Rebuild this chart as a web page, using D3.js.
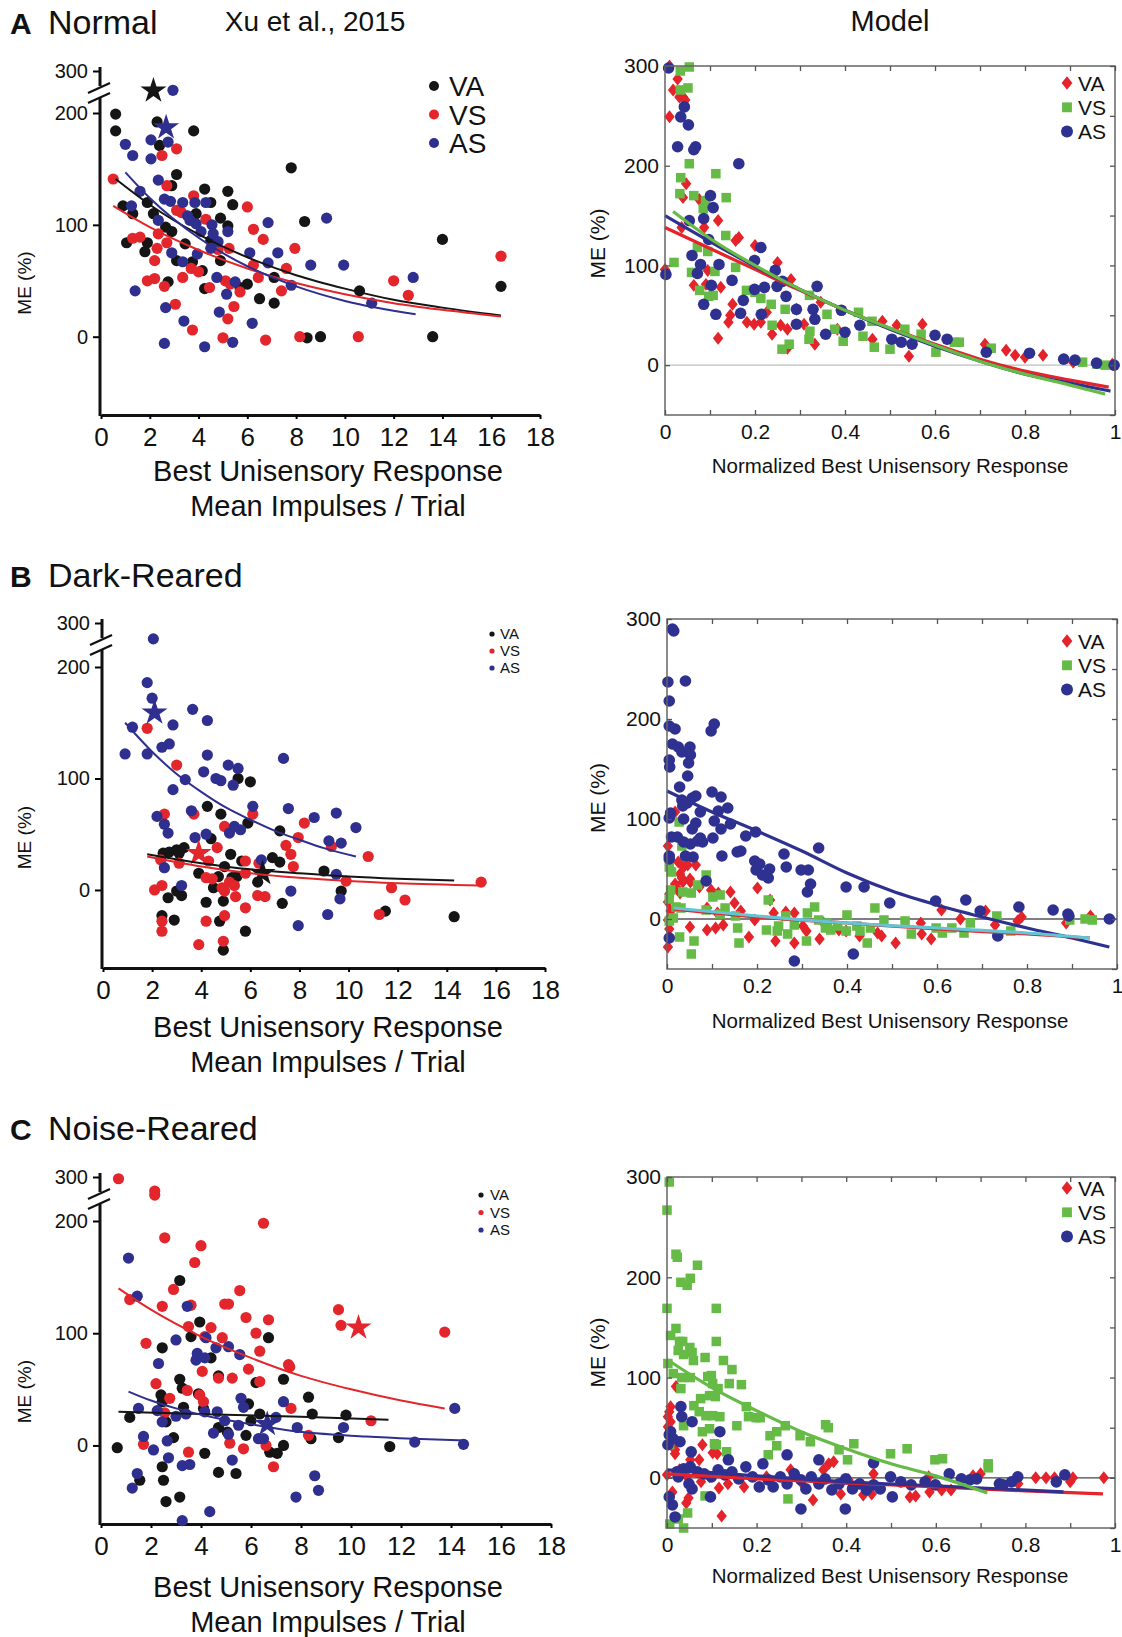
<!DOCTYPE html>
<html>
<head>
<meta charset="utf-8">
<script src="https://d3js.org/d3.v7.min.js"></script>
<style>
  body { margin: 0; background: #fff; }
  text { font-family: "Liberation Sans", Arial, sans-serif; fill: #111; }
</style>
</head>
<body>
<svg id="fig" width="1122" height="1637"></svg>
<script>
// ---- series names ----
const seriesNames = ["VA", "VS", "AS"];

// ---- A: Normal, Xu et al. 2015 (x: mean impulses/trial, y: ME %) ----
const aNormVA = [[0.6,199],[0.6,184],[2.3,192],[2.4,171],[3.1,145],[3.8,184],[4.25,132],[5.2,130],[5.4,118],[4.5,120],[3.9,110],[4.9,106],[5.2,99],[7.8,151],[8.35,103],[14.0,87],[16.4,45],[10.6,41],[9.0,0],[8.45,-1],[13.6,0],[7.1,30],[6.5,34],[6.0,47],[7.1,53],[0.9,117],[1.05,84],[1.3,110],[1.9,120],[1.9,84],[1.8,76],[2.15,110],[2.65,98],[2.9,94],[2.75,49],[3.45,83],[3.75,67],[4.15,59],[4.25,43],[4.9,68],[2.9,135],[3.1,68],[5.7,44],[4.5,86]];
const aNormVS = [[0.5,141],[2.5,162],[3.1,168],[2.7,135],[3.8,126],[3.3,111],[4.3,105],[6.0,116],[6.25,96],[6.65,87],[7.95,79],[7.6,61],[7.4,41],[12.0,50],[12.6,37],[16.4,72],[10.55,0],[8.15,0],[6.75,-3],[5.0,-1],[5.2,16],[5.45,27],[3.75,6],[3.05,29],[2.6,45],[2.2,52],[1.9,50],[2.2,68],[2.3,79],[2.35,92],[2.7,84],[1.3,88],[1.6,89],[3.35,53],[3.7,61],[4.0,58],[4.45,44],[5.1,50],[5.25,79],[5.7,40],[6.45,53],[6.25,64],[4.8,78],[5.3,47],[3.1,113]];
const aNormAS = [[2.95,254],[1.0,172],[1.3,162],[2.05,176],[2.05,159],[2.75,174],[2.35,140],[1.6,130],[1.25,117],[2.6,123],[2.85,121],[3.35,120],[3.85,120],[4.3,120],[3.55,108],[3.65,104],[3.9,101],[4.1,94],[4.55,100],[4.6,92],[4.8,85],[4.5,79],[5.2,94],[6.85,102],[9.25,106],[6.1,75],[7.25,75],[6.85,66],[8.6,64],[9.95,64],[12.8,53],[11.1,30],[7.8,46],[5.5,49],[4.75,53],[5.15,38],[4.85,22],[6.2,12],[5.4,-5],[4.25,-9],[2.6,-6],[2.65,26],[3.4,14],[1.4,41],[2.9,75],[3.35,67],[3.95,74],[2.35,104]];
const aNormStars = [[2.15,253,"VA"],[2.67,187,"AS"]];
const aFitVA = [[0.6,141],[2,118],[4,91.5],[6,71],[8,55],[10,43],[12,33],[14,26],[16.4,19]];
const aFitVS = [[0.5,117],[2,98],[4,77.5],[6,61],[8,48],[10,38],[12,30],[14,24],[16.4,18]];
const aFitAS = [[1.0,147],[2,124],[4,88.5],[6,63],[8,45],[10,32],[12.9,20]];

// ---- B: Dark-Reared ----
const bDarkVA = [[5.5,100],[6.0,97],[4.25,75],[4.8,68],[5.9,60],[4.4,46],[7.2,53],[2.45,33],[2.7,34],[3.0,36],[3.3,38],[3.1,33],[5.2,32],[5.65,26],[6.9,29],[7.2,25],[3.9,15],[4.7,12],[4.95,21],[5.45,12],[6.3,7],[4.5,2],[9.0,17],[9.7,-1],[2.65,-7],[3.2,-5],[3.0,-1],[4.2,-11],[4.9,-10],[7.3,-12],[2.4,-23],[2.9,-27],[4.75,-28],[5.8,-37],[4.9,-54],[11.5,-19],[14.3,-24],[5.25,11]];
const bDarkVS = [[1.8,145],[3.0,112],[2.5,68],[3.7,68],[6.1,68],[8.2,60],[7.95,47],[4.95,57],[4.65,38],[7.45,40],[7.65,32],[9.3,39],[10.8,30],[3.1,24],[2.35,27],[4.3,26],[5.8,26],[6.35,24],[7.75,21],[5.8,15],[4.2,11],[4.45,10],[4.85,2],[5.15,7],[5.35,4],[4.95,-1],[5.4,-6],[6.3,-5],[6.6,-6],[5.8,-16],[4.95,-23],[4.2,-28],[2.4,-28],[2.4,-37],[3.9,-49],[4.9,-46],[2.1,0],[2.4,4],[9.9,8],[11.75,2],[12.3,-9],[11.25,-22],[15.4,7]];
const bDarkAS = [[2.05,264],[1.8,186],[2.0,172],[1.2,146],[2.85,148],[0.9,122],[1.8,122],[2.4,128],[2.7,131],[3.65,162],[4.25,152],[4.25,121],[4.1,106],[3.35,99],[2.85,90],[4.6,100],[4.8,98],[5.1,112],[5.5,109],[5.3,94],[7.35,118],[6.1,75],[7.55,73],[8.6,65],[9.5,69],[10.3,56],[9.2,44],[9.7,42],[9.5,14],[9.65,-8],[9.15,-22],[7.95,-32],[7.65,-1],[6.45,27],[3.6,71],[3.75,47],[4.2,50],[5.15,51],[5.6,54],[5.35,57],[2.2,66],[2.5,59],[2.65,51],[2.5,20],[3.2,4]];
const bDarkStars = [[2.1,159,"AS"],[3.9,33,"VS"],[6.5,15,"VA"]];
const bFitVA = [[1.8,32],[4,24],[6,18.5],[8,15],[10,12],[12,10],[14.3,8.5]];
const bFitVS = [[1.8,30],[4,21],[6,15],[8,11],[10,8],[12,6],[15.4,4]];
const bFitAS = [[0.9,150],[2,124],[3,104],[4,88],[5,74],[6,63],[7,53],[8,45],[9,37.5],[10.3,30]];

// ---- C: Noise-Reared ----
const cNoiseVA = [[3.15,147],[3.95,110],[3.6,97],[2.45,87],[6.7,96],[4.4,78],[4.7,62],[3.15,59],[3.25,51],[6.2,56],[7.3,59],[8.3,43],[3.9,46],[2.4,45],[2.45,39],[4.1,33],[3.3,34],[5.9,37],[8.45,28],[9.8,27],[6.35,28],[6.0,22],[1.15,25],[2.6,21],[4.7,16],[5.05,12],[5.8,9],[2.9,7],[8.4,6],[9.5,7],[11.55,-1],[0.65,-2],[4.15,-7],[6.75,-6],[7.05,-7],[7.3,0],[2.45,-19],[4.7,-24],[5.4,-25],[2.5,-31],[1.55,-31],[3.15,-46],[2.6,-50]];
const cNoiseVS = [[0.7,296],[2.15,268],[2.15,259],[6.5,198],[2.55,185],[4.0,178],[3.75,163],[2.9,139],[5.55,138],[1.15,130],[2.45,124],[3.6,125],[4.95,126],[5.1,126],[5.8,114],[6.7,112],[9.5,121],[9.6,107],[13.75,101],[3.5,106],[4.4,105],[4.15,97],[4.85,96],[6.2,100],[6.35,84],[1.8,91],[7.5,72],[7.55,70],[5.9,68],[4.05,66],[4.7,60],[5.25,60],[6.35,57],[2.2,55],[3.45,49],[3.95,45],[4.1,39],[2.75,42],[7.6,33],[10.8,22],[2.55,29],[1.7,1],[5.15,2],[5.7,-3],[6.6,0],[3.5,-6],[6.9,-19],[8.3,9]];
const cNoiseAS = [[1.1,167],[1.45,133],[3.45,124],[3.0,94],[3.8,76],[3.85,82],[4.15,78],[4.6,87],[5.1,88],[5.55,81],[2.3,73],[4.2,96],[5.6,42],[5.7,34],[7.3,39],[4.65,30],[4.15,30],[2.25,31],[1.5,33],[3.0,26],[2.45,21],[4.95,22],[5.5,18],[7.0,25],[7.85,16],[9.7,16],[4.5,11],[5.1,10],[6.3,6],[6.5,6],[1.7,8],[2.65,4],[2.1,-4],[2.7,-11],[5.25,-13],[3.25,-18],[3.55,-17],[1.45,-25],[1.25,-38],[8.55,-27],[8.7,-40],[7.8,-46],[4.35,-59],[3.25,-67],[12.55,3],[14.5,1],[14.15,33],[3.4,28]];
const cNoiseStars = [[10.3,105,"VS"],[6.65,19,"AS"]];
const cFitVA = [[0.7,30],[4,28],[8,25.5],[11.5,23]];
const cFitVS = [[0.7,140],[2,121],[4,97],[6,78],[8,62],[10,50],[12,40],[13.75,33]];
const cFitAS = [[1.1,48],[2,40],[3,33],[4.7,24],[6,19],[7.6,13],[10.6,8],[12.5,6],[14.6,4.5]];

// ---- Model panels (x: normalized best unisensory response) ----
const mNormVA = [[0.01,300],[0.01,249],[0.018,276],[0.028,287],[0.032,269],[0.04,269],[0.045,266],[0.047,182],[0.04,168],[0.076,166],[0.087,138],[0.118,145],[0.037,138],[0.157,125],[0.164,128],[0.2,120],[0.25,103],[0.28,86],[0.124,78],[0.064,80],[0.095,95],[0.118,27],[0.141,43],[0.145,50],[0.15,61],[0.182,43],[0.198,41],[0.213,43],[0.238,31],[0.257,40],[0.272,36],[0.272,17],[0.333,21],[0.292,56],[0.346,63],[0.383,36],[0.483,44],[0.515,40],[0.542,9],[0.572,41],[0.711,21],[0.758,15],[0.778,10],[0.8,8],[0.84,10],[0.907,3],[0.994,1],[0.0,96],[0.091,81],[0.461,26],[0.226,53],[0.309,41]];
const mNormVS = [[0.034,295],[0.054,299],[0.034,276],[0.051,278],[0.054,202],[0.035,188],[0.113,192],[0.033,172],[0.064,170],[0.136,168],[0.09,165],[0.085,157],[0.135,130],[0.02,103],[0.059,93],[0.072,118],[0.095,114],[0.111,94],[0.077,75],[0.097,69],[0.107,70],[0.157,98],[0.181,75],[0.2,73],[0.213,67],[0.236,61],[0.238,40],[0.267,56],[0.276,21],[0.32,26],[0.322,34],[0.321,70],[0.36,51],[0.396,24],[0.43,53],[0.44,29],[0.465,18],[0.46,44],[0.5,16],[0.533,36],[0.569,31],[0.602,13],[0.643,23],[0.654,23],[0.725,17],[0.928,3],[0.96,1],[0.978,0],[0.26,16],[0.377,36]];
const mNormAS = [[0.008,298],[0.043,259],[0.035,249],[0.052,241],[0.028,219],[0.068,219],[0.064,216],[0.164,202],[0.101,170],[0.107,158],[0.054,145],[0.086,147],[0.002,91],[0.06,110],[0.079,101],[0.072,92],[0.097,126],[0.103,80],[0.113,51],[0.086,61],[0.12,101],[0.149,85],[0.168,52],[0.174,65],[0.199,105],[0.213,118],[0.199,76],[0.221,78],[0.214,51],[0.245,95],[0.249,79],[0.269,69],[0.292,41],[0.292,56],[0.329,56],[0.333,46],[0.338,79],[0.357,31],[0.392,55],[0.4,33],[0.433,40],[0.504,26],[0.525,23],[0.549,21],[0.6,30],[0.627,26],[0.714,13],[0.81,12],[0.886,6],[0.911,5],[0.959,2],[0.998,0],[0.261,84]];
const mNormFitVA = [[0,138],[0.1,117],[0.2,96],[0.3,75],[0.4,55],[0.5,37],[0.6,21],[0.7,6],[0.8,-6],[0.9,-15],[0.986,-22]];
const mNormFitVS = [[0.018,154],[0.1,127],[0.2,100],[0.3,76],[0.4,55],[0.5,37],[0.6,20],[0.7,4],[0.8,-9],[0.9,-20],[0.978,-29]];
const mNormFitAS = [[0,150],[0.1,124],[0.2,99],[0.3,76],[0.4,55],[0.5,36],[0.6,19],[0.7,4],[0.8,-9],[0.9,-18],[0.99,-26]];

const mDarkVA = [[0.018,107],[0.002,73],[0.025,57],[0.029,45],[0.037,52],[0.046,54],[0.064,54],[0.033,41],[0.051,40],[0.035,37],[0.018,35],[0.02,32],[0.005,25],[0.002,17],[0.008,8],[0.002,-1],[0.005,-10],[0.002,-28],[0.029,26],[0.072,32],[0.098,29],[0.114,26],[0.141,27],[0.15,16],[0.089,11],[0.112,6],[0.164,8],[0.201,31],[0.195,-1],[0.229,19],[0.237,6],[0.264,7],[0.283,6],[0.089,-11],[0.108,-9],[0.125,-6],[0.051,-8],[0.182,-18],[0.241,-22],[0.283,-24],[0.302,-7],[0.31,-12],[0.339,-20],[0.348,-4],[0.382,-11],[0.398,-12],[0.428,-17],[0.468,-14],[0.477,-17],[0.508,-24],[0.564,-4],[0.566,-15],[0.587,-20],[0.61,9],[0.652,0],[0.708,8],[0.729,-6],[0.779,-2],[0.788,2],[0.887,-4],[0.941,3],[0.052,37],[0.008,50]];
const mDarkVS = [[0.027,97],[0.033,73],[0.005,52],[0.01,47],[0.008,29],[0.005,20],[0.02,12],[0.031,11],[0.087,44],[0.068,34],[0.054,26],[0.035,27],[0.014,1],[0.005,-2],[0.028,-18],[0.06,-22],[0.054,-35],[0.087,9],[0.102,22],[0.118,24],[0.129,11],[0.118,5],[0.152,3],[0.157,-9],[0.16,-24],[0.225,19],[0.221,-11],[0.245,-12],[0.248,-7],[0.264,3],[0.283,-6],[0.312,6],[0.328,12],[0.31,-22],[0.337,-1],[0.352,-9],[0.364,-11],[0.379,-7],[0.4,4],[0.398,-12],[0.422,-7],[0.429,-12],[0.445,-24],[0.452,-9],[0.462,11],[0.482,-1],[0.529,-2],[0.543,-15],[0.598,-9],[0.612,-14],[0.633,-9],[0.66,-14],[0.674,-4],[0.733,3],[0.764,-12],[0.895,-1],[0.929,0],[0.945,-1],[0.268,-15],[0.356,-4]];
const mDarkAS = [[0.012,290],[0.015,288],[0.002,237],[0.041,238],[0.005,218],[0.005,193],[0.018,190],[0.098,188],[0.105,195],[0.012,175],[0.025,172],[0.033,167],[0.051,172],[0.052,164],[0.048,156],[0.005,159],[0.006,152],[0.046,143],[0.028,132],[0.008,106],[0.005,101],[0.033,119],[0.035,113],[0.045,116],[0.056,121],[0.064,123],[0.1,127],[0.12,122],[0.135,111],[0.114,108],[0.105,98],[0.12,90],[0.141,95],[0.074,107],[0.064,96],[0.056,90],[0.037,100],[0.023,82],[0.01,82],[0.037,77],[0.052,75],[0.068,78],[0.079,77],[0.074,81],[0.058,62],[0.041,63],[0.005,63],[0.005,60],[0.102,81],[0.122,63],[0.156,67],[0.164,68],[0.175,83],[0.197,87],[0.195,58],[0.206,55],[0.198,49],[0.212,44],[0.225,41],[0.228,50],[0.26,65],[0.265,52],[0.298,49],[0.314,49],[0.319,35],[0.312,27],[0.337,71],[0.398,32],[0.438,32],[0.495,16],[0.597,18],[0.664,19],[0.696,8],[0.782,12],[0.858,9],[0.891,5],[0.893,3],[0.983,0],[0.735,-17],[0.414,-35],[0.283,-42],[0.005,-19],[0.087,38]];
const mDarkFitAS = [[0,128],[0.1,107],[0.2,88],[0.3,68],[0.4,46],[0.5,28],[0.6,14],[0.7,2],[0.8,-9],[0.9,-19],[0.983,-28]];
const mDarkFitVA = [[0.014,10],[0.2,2],[0.4,-4],[0.6,-10],[0.8,-15],[0.94,-19]];
const mDarkFitVS = [[0.014,11],[0.2,3],[0.4,-4],[0.6,-9],[0.8,-14],[0.94,-19]];

const mNoiseVA = [[0.02,91],[0.008,71],[0.005,66],[0.002,61],[0.008,56],[0.002,51],[0.018,24],[0.012,33],[0.018,28],[0.0,3],[0.012,-14],[0.043,-25],[0.048,-20],[0.079,33],[0.052,18],[0.072,18],[0.102,25],[0.112,24],[0.116,-10],[0.122,-38],[0.136,-6],[0.172,-9],[0.076,-4],[0.095,1],[0.222,1],[0.276,8],[0.299,-4],[0.326,-22],[0.349,8],[0.361,14],[0.372,16],[0.388,-16],[0.405,-2],[0.438,-17],[0.457,-16],[0.461,4],[0.542,-19],[0.555,-18],[0.586,-14],[0.613,-12],[0.634,-12],[0.683,2],[0.7,4],[0.823,0],[0.846,0],[0.865,0],[0.9,-4],[0.906,0],[0.975,0],[0.584,1],[0.784,-6],[0.045,1],[0.028,8]];
const mNoiseVS = [[0.005,295],[0.0,267],[0.023,220],[0.02,223],[0.031,195],[0.045,192],[0.052,199],[0.068,212],[0.0,169],[0.11,169],[0.008,142],[0.02,149],[0.028,136],[0.035,136],[0.025,127],[0.037,123],[0.051,130],[0.056,125],[0.059,117],[0.085,120],[0.11,136],[0.126,117],[0.002,114],[0.014,104],[0.033,100],[0.052,100],[0.091,101],[0.099,102],[0.145,108],[0.139,94],[0.166,93],[0.031,89],[0.102,94],[0.114,89],[0.108,81],[0.095,82],[0.075,79],[0.06,72],[0.072,66],[0.087,62],[0.102,62],[0.118,61],[0.177,71],[0.182,61],[0.199,60],[0.208,60],[0.156,52],[0.037,52],[0.079,46],[0.095,49],[0.106,34],[0.11,33],[0.133,26],[0.226,23],[0.23,42],[0.245,46],[0.264,52],[0.245,32],[0.297,42],[0.32,36],[0.354,53],[0.36,50],[0.384,28],[0.403,18],[0.417,34],[0.499,24],[0.536,29],[0.598,18],[0.615,19],[0.717,14],[0.717,10],[0.27,-21],[0.085,-18],[0.006,-46],[0.025,-41],[0.037,-50],[0.046,-35],[0.006,33]];
const mNoiseAS = [[0.031,71],[0.033,61],[0.056,56],[0.005,43],[0.008,46],[0.014,39],[0.002,33],[0.029,36],[0.118,46],[0.054,26],[0.005,-19],[0.012,-27],[0.018,-39],[0.097,-19],[0.137,18],[0.268,23],[0.339,18],[0.461,15],[0.299,-31],[0.398,-31],[0.503,-19],[0.63,4],[0.783,1],[0.869,-4],[0.888,3],[0.769,-4],[0.742,-6],[0.676,-2],[0.657,-1],[0.022,6],[0.037,9],[0.052,11],[0.068,6],[0.083,4],[0.099,1],[0.114,8],[0.129,3],[0.145,6],[0.16,-1],[0.176,11],[0.191,1],[0.206,-9],[0.214,14],[0.226,-2],[0.237,-9],[0.253,1],[0.268,-6],[0.284,4],[0.299,-2],[0.31,-11],[0.322,1],[0.339,-6],[0.353,-1],[0.368,-12],[0.384,-6],[0.399,-1],[0.414,-11],[0.43,-6],[0.445,-12],[0.461,-7],[0.476,-11],[0.499,1],[0.522,-4],[0.545,-7],[0.576,-4],[0.599,-7],[0.049,-6],[0.056,-11],[0.025,1],[0.75,-7],[0.691,-1]];
const mNoiseFitVS = [[0,118],[0.1,90],[0.2,67],[0.3,46],[0.4,29],[0.5,14],[0.6,2],[0.715,-15]];
const mNoiseFitAS = [[0,8],[0.2,2],[0.4,-4],[0.6,-8],[0.885,-14]];
const mNoiseFitVA = [[0,4],[0.2,-1],[0.4,-5],[0.6,-9],[0.8,-13],[0.973,-16]];

const leftXTicks = [0,2,4,6,8,10,12,14,16,18];
const leftYTicks = [0,100,200,300];
const modelXTicks = [0,0.2,0.4,0.6,0.8,1];
const modelYTicks = [0,100,200,300];

// ---- drawing ----
const svg = d3.select("#fig");
const dataCol = {VA: "#151515", VS: "#e3262b", AS: "#2e2f8e"};
const modelCol = {VA: "#e5232a", VS: "#66bb46", AS: "#2f3190", cyan: "#62c5d6"};
const line = (x, y) => d3.line().x(d => x(d[0])).y(d => y(d[1])).curve(d3.curveMonotoneX);

function leftPanel(p) {
  const x = d3.scaleLinear().domain([0, 18]).range([p.x0, p.x1]);
  const y = d3.scaleLinear().domain([-70, 200, 300]).range([p.yBot, p.y200, p.y300]);
  const g = svg.append("g");
  const ax = p.x0 - 1;

  // x axis
  const xa = g.append("g").attr("transform", `translate(0,${p.yBot})`)
    .call(d3.axisBottom(x).tickValues(leftXTicks).tickSize(4).tickSizeOuter(0).tickPadding(9));
  xa.select(".domain").attr("stroke", "#111").attr("stroke-width", 3);
  xa.selectAll(".tick line").attr("stroke-width", 2);
  xa.selectAll("text").attr("font-size", 26).attr("fill", "#111");

  // y axis with break
  const ya = g.append("g").attr("transform", `translate(${ax},0)`)
    .call(d3.axisLeft(y).tickValues(leftYTicks).tickSize(7).tickPadding(5));
  ya.select(".domain").remove();
  ya.selectAll(".tick line").attr("stroke-width", 2);
  ya.selectAll("text").attr("font-size", 20).attr("fill", "#111");
  const axStroke = s => s.attr("stroke", "#111").attr("stroke-width", 3).attr("fill", "none");
  g.append("line").attr("x1", ax).attr("x2", ax).attr("y1", p.y300 - 4).attr("y2", p.y300 + 15).call(axStroke);
  g.append("line").attr("x1", ax).attr("x2", ax).attr("y1", p.y300 + 27).attr("y2", p.yBot + 1).call(axStroke);
  [p.y300 + 17, p.y300 + 27].forEach(yy =>
    g.append("line").attr("x1", ax - 12).attr("y1", yy + 5).attr("x2", ax + 10).attr("y2", yy - 5)
      .attr("stroke", "#111").attr("stroke-width", 2.4));

  // points
  p.series.forEach((pts, i) => {
    g.append("g").selectAll("circle").data(pts).join("circle")
      .attr("cx", d => x(d[0])).attr("cy", d => y(d[1])).attr("r", 5.6)
      .attr("fill", dataCol[seriesNames[i]]);
  });
  g.append("g").selectAll("path").data(p.stars).join("path")
    .attr("transform", d => `translate(${x(d[0])},${y(d[1])})`)
    .attr("d", d3.symbol(d3.symbolStar, 210))
    .attr("fill", d => dataCol[d[2]]);
  p.fits.forEach((f, i) => {
    g.append("path").datum(f).attr("d", line(x, y))
      .attr("fill", "none").attr("stroke", dataCol[seriesNames[i]]).attr("stroke-width", 2);
  });

  // labels
  g.append("text").attr("transform", `translate(31,${y(p.meY)}) rotate(-90)`)
    .attr("text-anchor", "middle").attr("font-size", 19).text("ME (%)");
  g.append("text").attr("x", 328).attr("y", p.lab1).attr("text-anchor", "middle")
    .attr("font-size", 29).text("Best Unisensory Response");
  g.append("text").attr("x", 328).attr("y", p.lab1 + 35).attr("text-anchor", "middle")
    .attr("font-size", 29).text("Mean Impulses / Trial");
  g.append("text").attr("x", 10).attr("y", p.titleY).attr("font-size", 30).attr("font-weight", "bold").text(p.letter);
  g.append("text").attr("x", 48).attr("y", p.titleY).attr("font-size", 34).text(p.title);

  // legend
  seriesNames.forEach((s, i) => {
    const ly = p.leg.y + i * p.leg.dy;
    g.append("circle").attr("cx", p.leg.x).attr("cy", ly).attr("r", p.leg.r).attr("fill", dataCol[s]);
    g.append("text").attr("x", p.leg.x + p.leg.gap).attr("y", ly).attr("dy", "0.36em")
      .attr("font-size", p.leg.fs).text(s);
  });
}

function diamondPath(s) { return `M0,${-s}L${s * 0.8},0L0,${s}L${-s * 0.8},0Z`; }
function marker(sel, s, size) {
  if (s === "VA") sel.append("path").attr("d", diamondPath(size * 1.12));
  else if (s === "VS") sel.append("rect").attr("x", -size * 0.82).attr("y", -size * 0.82).attr("width", size * 1.64).attr("height", size * 1.64);
  else sel.append("circle").attr("r", size);
}

function modelPanel(p) {
  const x = d3.scaleLinear().domain([0, 1]).range([p.x0, p.x1]);
  const y = d3.scaleLinear().domain([-50, 300]).range([p.yBot, p.y300]);
  const g = svg.append("g");

  // zero line
  g.append("line").attr("x1", p.x0).attr("x2", p.x1).attr("y1", y(0)).attr("y2", y(0))
    .attr("stroke", p.zeroCol).attr("stroke-width", 1.3);

  // markers
  const order = ["VA", "VS", "AS"];
  order.forEach(s => {
    const pts = p.series[s];
    g.append("g").selectAll("g").data(pts.filter(d => d[1] <= 300)).join("g")
      .attr("transform", d => `translate(${x(d[0])},${y(d[1])})`)
      .attr("fill", modelCol[s])
      .each(function () { marker(d3.select(this), s, 5.8); });
  });
  p.fits.forEach(f => {
    g.append("path").datum(f.d).attr("d", line(x, y))
      .attr("fill", "none").attr("stroke", modelCol[f.c]).attr("stroke-width", 3.2);
  });

  // box + inward ticks on all four sides
  g.append("rect").attr("x", p.x0).attr("y", p.y300).attr("width", p.x1 - p.x0).attr("height", p.yBot - p.y300)
    .attr("fill", "none").attr("stroke", "#666").attr("stroke-width", 1.5);
  const styleAxis = a => { a.select(".domain").remove(); a.selectAll(".tick line").attr("stroke", "#555").attr("stroke-width", 1.3); };
  g.append("g").attr("transform", `translate(0,${p.yBot})`)
    .call(d3.axisBottom(x).ticks(10).tickSize(-5).tickFormat("")).call(styleAxis);
  g.append("g").attr("transform", `translate(0,${p.yBot})`)
    .call(d3.axisBottom(x).tickValues(modelXTicks).tickSize(0).tickPadding(9).tickFormat(d3.format("~g")))
    .call(styleAxis).selectAll("text").attr("font-size", 21).attr("fill", "#111");
  g.append("g").attr("transform", `translate(0,${p.y300})`)
    .call(d3.axisTop(x).ticks(10).tickSize(-5).tickFormat("")).call(styleAxis);
  g.append("g").attr("transform", `translate(${p.x0},0)`)
    .call(d3.axisLeft(y).tickValues(modelYTicks).tickSize(-5).tickPadding(6))
    .call(styleAxis).selectAll("text").attr("font-size", 21).attr("fill", "#111");
  g.append("g").attr("transform", `translate(${p.x1},0)`)
    .call(d3.axisRight(y).tickValues(d3.range(-50, 301, 50)).tickSize(-5).tickFormat("")).call(styleAxis);

  g.append("text").attr("transform", `translate(605,${y(p.meY)}) rotate(-90)`)
    .attr("text-anchor", "middle").attr("font-size", 21).text("ME (%)");
  g.append("text").attr("x", 890).attr("y", p.labY).attr("text-anchor", "middle")
    .attr("font-size", 20.5).text("Normalized Best Unisensory Response");

  order.forEach((s, i) => {
    const ly = p.legY + i * 24.3;
    const m = g.append("g").attr("transform", `translate(1067,${ly})`).attr("fill", modelCol[s]);
    marker(m, s, 6);
    g.append("text").attr("x", 1078).attr("y", ly).attr("dy", "0.36em").attr("font-size", 21).text(s);
  });
}

// headers
svg.append("text").attr("x", 315).attr("y", 31).attr("text-anchor", "middle").attr("font-size", 28).text("Xu et al., 2015");
svg.append("text").attr("x", 890).attr("y", 31).attr("text-anchor", "middle").attr("font-size", 29).text("Model");

leftPanel({letter: "A", title: "Normal", titleY: 34, x0: 101, x1: 540, yBot: 415, y200: 113, y300: 71,
  series: [aNormVA, aNormVS, aNormAS], stars: aNormStars, fits: [aFitVA, aFitVS, aFitAS],
  meY: 48, lab1: 481, leg: {x: 434, y: 86, dy: 28.5, r: 5, gap: 15, fs: 28}});
leftPanel({letter: "B", title: "Dark-Reared", titleY: 587, x0: 103, x1: 545, yBot: 968, y200: 667, y300: 623,
  series: [bDarkVA, bDarkVS, bDarkAS], stars: bDarkStars, fits: [bFitVA, bFitVS, bFitAS],
  meY: 47, lab1: 1037, leg: {x: 492, y: 634, dy: 17, r: 2.6, gap: 8, fs: 15}});
leftPanel({letter: "C", title: "Noise-Reared", titleY: 1140, x0: 101, x1: 551, yBot: 1524, y200: 1221, y300: 1177,
  series: [cNoiseVA, cNoiseVS, cNoiseAS], stars: cNoiseStars, fits: [cFitVA, cFitVS, cFitAS],
  meY: 48, lab1: 1597, leg: {x: 481, y: 1195, dy: 17.5, r: 2.6, gap: 9, fs: 15}});

modelPanel({x0: 665, x1: 1115, y300: 66, yBot: 415, zeroCol: "#bdbdbd",
  series: {VA: mNormVA, VS: mNormVS, AS: mNormAS},
  fits: [{d: mNormFitVA, c: "VA"}, {d: mNormFitAS, c: "AS"}, {d: mNormFitVS, c: "VS"}],
  meY: 122, labY: 473, legY: 83});
modelPanel({x0: 667, x1: 1117, y300: 619, yBot: 969, zeroCol: "#555",
  series: {VA: mDarkVA, VS: mDarkVS, AS: mDarkAS},
  fits: [{d: mDarkFitAS, c: "AS"}, {d: mDarkFitVA, c: "VA"}, {d: mDarkFitVS, c: "cyan"}],
  meY: 121, labY: 1028, legY: 641});
modelPanel({x0: 667, x1: 1115, y300: 1177, yBot: 1528, zeroCol: "#444",
  series: {VA: mNoiseVA, VS: mNoiseVS, AS: mNoiseAS},
  fits: [{d: mNoiseFitVA, c: "VA"}, {d: mNoiseFitAS, c: "AS"}, {d: mNoiseFitVS, c: "VS"}],
  meY: 125, labY: 1583, legY: 1188});
</script>
</body>
</html>
